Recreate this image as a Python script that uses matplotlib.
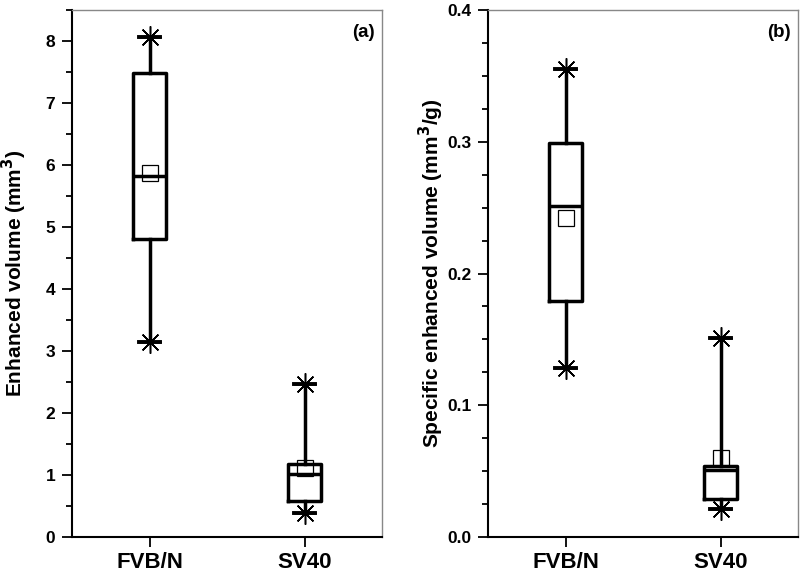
import matplotlib.pyplot as plt

plt.rcParams['font.family'] = ['Liberation Sans', 'DejaVu Sans']
plt.rcParams['font.weight'] = 'bold'

groups = ['FVB/N', 'SV40']

# panel (a): enhanced volume (mm^3)
vol_min = [3.15, 0.39]
vol_q1 = [4.80, 0.58]
vol_med = [5.82, 1.02]
vol_mean = [5.87, 1.12]
vol_q3 = [7.49, 1.18]
vol_max = [8.07, 2.46]

# panel (b): specific enhanced volume (mm^3/g)
spec_min = [0.128, 0.021]
spec_q1 = [0.179, 0.029]
spec_med = [0.251, 0.051]
spec_mean = [0.242, 0.060]
spec_q3 = [0.299, 0.054]
spec_max = [0.355, 0.151]


def draw(ax, mn, q1, med, mean, q3, mx, ylim, major, minor, ylabel, tag, labx):
    stats = []
    for i in range(len(groups)):
        stats.append(dict(label=groups[i], whislo=mn[i], q1=q1[i], med=med[i],
                          q3=q3[i], whishi=mx[i], mean=mean[i], fliers=[]))
    lw = 2.5
    ax.bxp(stats, positions=[1, 2], widths=0.21, showmeans=True, showfliers=False,
           capwidths=0.14,
           boxprops=dict(color='black', linewidth=lw),
           whiskerprops=dict(color='black', linewidth=lw),
           capprops=dict(color='black', linewidth=2.8),
           medianprops=dict(color='black', linewidth=lw),
           meanprops=dict(marker='s', markerfacecolor='none', markeredgecolor='black',
                          markersize=12, markeredgewidth=0.9))
    # asterisk end markers
    for ends in (mx, mn):
        ax.plot([1, 2], ends, linestyle='none', marker=(8, 2, 0), markersize=16,
                color='black', markeredgewidth=1.1)
    ax.set_xlim(0.5, 2.5)
    ax.set_ylim(*ylim)
    ax.set_yticks(major)
    ax.set_yticks(minor, minor=True)
    ax.tick_params(axis='y', which='major', direction='out', length=7, width=1.3,
                   labelsize=12.5, pad=5)
    ax.tick_params(axis='y', which='minor', direction='out', length=4, width=1.3)
    ax.tick_params(axis='x', which='major', direction='out', length=7, width=1.3,
                   labelsize=16, pad=3.5)
    ax.set_ylabel(ylabel, fontsize=15, fontweight='bold')
    ax.yaxis.set_label_coords(labx, 0.5)
    for s in ['left', 'bottom']:
        ax.spines[s].set_linewidth(1.5)
    for s in ['top', 'right']:
        ax.spines[s].set_linewidth(1.0)
        ax.spines[s].set_color('#888888')
    ax.text(0.977, 0.973, tag, transform=ax.transAxes, ha='right', va='top',
            fontsize=13.5, fontweight='bold')


fig = plt.figure(figsize=(8, 5.74), dpi=100)
ax1 = fig.add_axes([0.09, 0.0645, 0.3875, 0.918])
ax2 = fig.add_axes([0.61, 0.0645, 0.3875, 0.918])

draw(ax1, vol_min, vol_q1, vol_med, vol_mean, vol_q3, vol_max, (0, 8.5),
     list(range(0, 9)), [x + 0.5 for x in range(0, 9)],
     'Enhanced volume (mm$^\\mathbf{3}$)', '(a)', -0.14)
draw(ax2, spec_min, spec_q1, spec_med, spec_mean, spec_q3, spec_max, (0, 0.4),
     [0.0, 0.1, 0.2, 0.3, 0.4],
     [0.025, 0.05, 0.075, 0.125, 0.15, 0.175, 0.225, 0.25, 0.275, 0.325, 0.35, 0.375],
     'Specific enhanced volume (mm$^\\mathbf{3}$/g)', '(b)', -0.135)
ax1.set_yticklabels([str(v) for v in range(0, 9)])
ax2.set_yticklabels(['0.0', '0.1', '0.2', '0.3', '0.4'])

fig.savefig('out.png', dpi=100)
